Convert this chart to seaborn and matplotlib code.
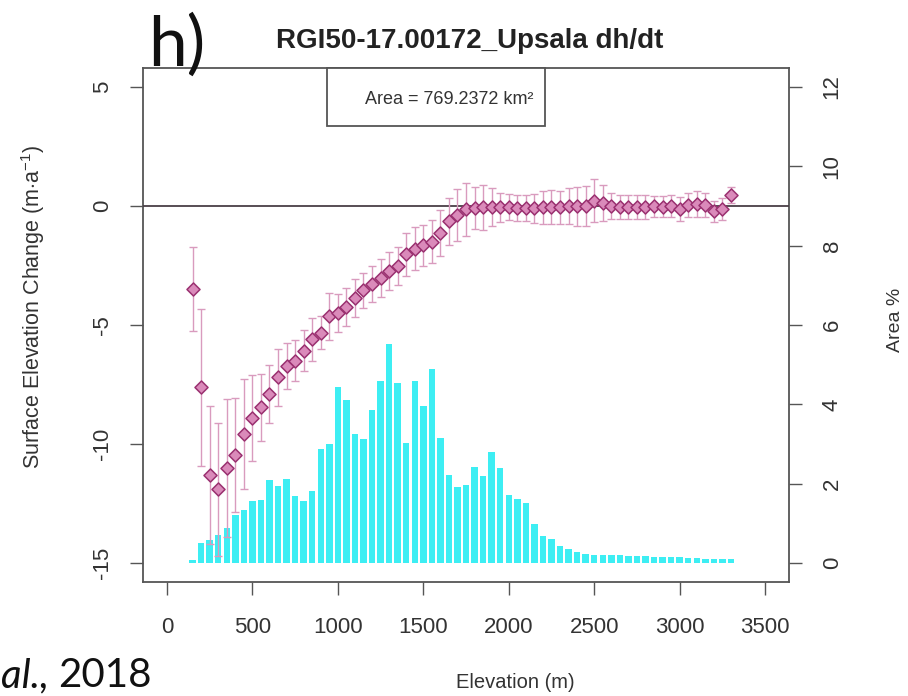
import matplotlib
matplotlib.use("Agg")
import matplotlib.pyplot as plt
from matplotlib.patches import Rectangle
import seaborn as sns

# Elevation bins (m)
elevation = [150, 200, 250, 300, 350, 400, 450, 500, 550, 600, 650, 700, 750, 800,
             850, 900, 950, 1000, 1050, 1100, 1150, 1200, 1250, 1300, 1350, 1400,
             1450, 1500, 1550, 1600, 1650, 1700, 1750, 1800, 1850, 1900, 1950, 2000,
             2050, 2100, 2150, 2200, 2250, 2300, 2350, 2400, 2450, 2500, 2550, 2600,
             2650, 2700, 2750, 2800, 2850, 2900, 2950, 3000, 3050, 3100, 3150, 3200,
             3250, 3300]

# Share of glacier area in each bin (%)
area_pct = [0.08, 0.50, 0.57, 0.71, 0.88, 1.22, 1.33, 1.55, 1.60, 2.10, 1.93, 2.12,
            1.70, 1.55, 1.81, 2.88, 3.01, 4.44, 4.10, 3.26, 3.13, 3.85, 4.58, 5.51,
            4.55, 3.03, 4.58, 3.97, 4.89, 3.15, 2.23, 1.92, 1.97, 2.41, 2.18, 2.81,
            2.40, 1.72, 1.61, 1.50, 0.97, 0.69, 0.60, 0.44, 0.35, 0.27, 0.22, 0.21,
            0.20, 0.19, 0.19, 0.18, 0.18, 0.17, 0.16, 0.15, 0.14, 0.14, 0.13, 0.12,
            0.11, 0.10, 0.10, 0.09]

# Mean surface elevation change per bin (m a-1) and its uncertainty
dhdt = [-3.48, -7.62, -11.30, -11.90, -11.02, -10.46, -9.58, -8.92, -8.46, -7.90,
        -7.19, -6.72, -6.50, -6.08, -5.60, -5.32, -4.64, -4.48, -4.23, -3.87, -3.55,
        -3.27, -3.03, -2.75, -2.52, -2.02, -1.80, -1.65, -1.50, -1.13, -0.65, -0.37,
        -0.14, -0.08, -0.05, -0.05, -0.06, -0.05, -0.07, -0.08, -0.10, -0.06, -0.04,
        -0.05, 0.00, -0.02, 0.00, 0.22, 0.14, 0.00, -0.03, -0.05, -0.05, -0.03,
        -0.02, -0.03, 0.00, -0.12, 0.05, 0.08, 0.05, -0.22, -0.12, 0.47]

dhdt_err = [1.76, 3.30, 2.90, 2.80, 2.90, 2.40, 2.30, 1.80, 1.40, 1.20, 1.20, 0.95,
            0.85, 0.85, 0.90, 0.70, 1.00, 0.80, 0.80, 0.80, 0.75, 0.75, 0.80, 0.80,
            0.80, 0.90, 0.90, 0.85, 0.90, 0.95, 1.00, 1.10, 1.10, 0.90, 0.95, 0.80,
            0.60, 0.55, 0.55, 0.55, 0.60, 0.70, 0.70, 0.70, 0.75, 0.80, 0.85, 0.90,
            0.75, 0.55, 0.50, 0.50, 0.50, 0.50, 0.45, 0.45, 0.45, 0.50, 0.50, 0.55,
            0.50, 0.45, 0.45, 0.35]

x_ticks = [0, 500, 1000, 1500, 2000, 2500, 3000, 3500]
dh_ticks = [-15, -10, -5, 0, 5]
area_ticks = [0, 2, 4, 6, 8, 10, 12]

title = "RGI50-17.00172_Upsala dh/dt"
area_text = "Area = 769.2372 km²"

sns.set_theme(style="white")
plt.rcParams["font.family"] = ["Liberation Sans", "DejaVu Sans"]
plt.rcParams["mathtext.fontset"] = "custom"
plt.rcParams["mathtext.rm"] = "Liberation Sans"
plt.rcParams["mathtext.it"] = "Liberation Sans:italic"
plt.rcParams["mathtext.bf"] = "Liberation Sans:bold"

frame_col = "#555555"
text_col = "#333333"
bar_col = "#3DEEF3"
pt_fill = "#DA8ABA"
pt_edge = "#9A3070"
err_col = "#D99BBE"

fig = plt.figure(figsize=(9.08, 6.96), dpi=100)
ax = fig.add_axes([0.1575, 0.1638, 0.7115, 0.7385])

# Area histogram (right axis)
sns.barplot(x=elevation, y=area_pct, native_scale=True, color=bar_col,
            saturation=1, width=0.76, linewidth=0, ax=ax)
ax.set_xlim(-140, 3640)
ax.set_ylim(-0.48, 12.48)

# dh/dt profile (left axis)
ax2 = ax.twinx()
ax2.set_ylim(-15.8, 5.8)
ax2.axhline(0, color="#4A3F46", lw=1.3, zorder=1)
ax2.errorbar(elevation, dhdt, yerr=dhdt_err, fmt="none", ecolor=err_col,
             elinewidth=1.0, capsize=3, capthick=1.0, zorder=2)
sns.scatterplot(x=elevation, y=dhdt, marker="D", s=44, color=pt_fill,
                edgecolor=pt_edge, linewidth=1.1, ax=ax2, zorder=3)

# axis placement: dh/dt on the left, area on the right
ax.yaxis.tick_right()
ax.yaxis.set_label_position("right")
ax2.yaxis.tick_left()
ax2.yaxis.set_label_position("left")

ax.set_xticks(x_ticks)
ax.set_xticklabels([str(v) for v in x_ticks])
ax.set_yticks(area_ticks)
ax.set_yticklabels([str(v) for v in area_ticks])
ax2.set_yticks(dh_ticks)
ax2.set_yticklabels([str(v) for v in dh_ticks])

tick_kw = dict(direction="out", length=9.5, width=1.0, color=frame_col,
               labelsize=16, labelcolor=text_col)
ax.tick_params(axis="x", bottom=True, top=False, pad=16, **tick_kw)
ax.tick_params(axis="y", right=True, left=False, labelright=True,
               labelleft=False, labelrotation=90, pad=14, **tick_kw)
ax2.tick_params(axis="y", left=True, right=False, labelleft=True,
                labelright=False, labelrotation=90, pad=12, **tick_kw)
for lab in ax.get_yticklabels() + ax2.get_yticklabels():
    lab.set_verticalalignment("center")

for s in ax.spines.values():
    s.set_visible(True)
    s.set_color(frame_col)
    s.set_linewidth(1.3)
for s in ax2.spines.values():
    s.set_visible(False)

ax.set_xlabel("Elevation (m)", fontsize=14.5, color=text_col)
ax.xaxis.set_label_coords(0.577, -0.178)
ax.set_ylabel("Area %", fontsize=14, color=text_col)
ax.yaxis.set_label_coords(1.151, 0.51)
ax2.set_ylabel(r"Surface Elevation Change (m$\cdot$a$^{\mathregular{-1}}$)",
               fontsize=15.5, color=text_col)
ax2.yaxis.set_label_coords(-0.148, 0.535)

# area annotation box at the top of the panel
ax.add_patch(Rectangle((0.285, 0.887), 0.337, 0.113, transform=ax.transAxes,
                       facecolor="white", edgecolor=frame_col, lw=1.3,
                       zorder=5, clip_on=False))
ax.text(0.474, 0.938, area_text, transform=ax.transAxes, ha="center",
        va="center", fontsize=13, color=text_col, zorder=6)

fig.text(470 / 908, 1 - 41 / 696, title, ha="center", va="center",
         fontsize=20, fontweight="bold", color="#222222")
fig.text(148 / 908, 1 - 66 / 696, "h)", ha="left", va="baseline",
         fontsize=50, family=["Lato", "DejaVu Sans"], color="#111111")

# citation fragment in the lower-left corner: italic part, then the year
cite_y = 1 - 687 / 696
t_it = fig.text(1 / 908, cite_y, "al.,", ha="left", va="baseline",
                fontsize=29, style="italic", family=["Lato", "DejaVu Sans"],
                color="#111111")
renderer = fig.canvas.get_renderer()
bb = t_it.get_window_extent(renderer=renderer)
fig.text(bb.x1 / fig.bbox.width + 9 / 908, cite_y, "2018", ha="left",
         va="baseline", fontsize=29, family=["Lato", "DejaVu Sans"],
         color="#111111")

fig.savefig("out.png", dpi=100)
